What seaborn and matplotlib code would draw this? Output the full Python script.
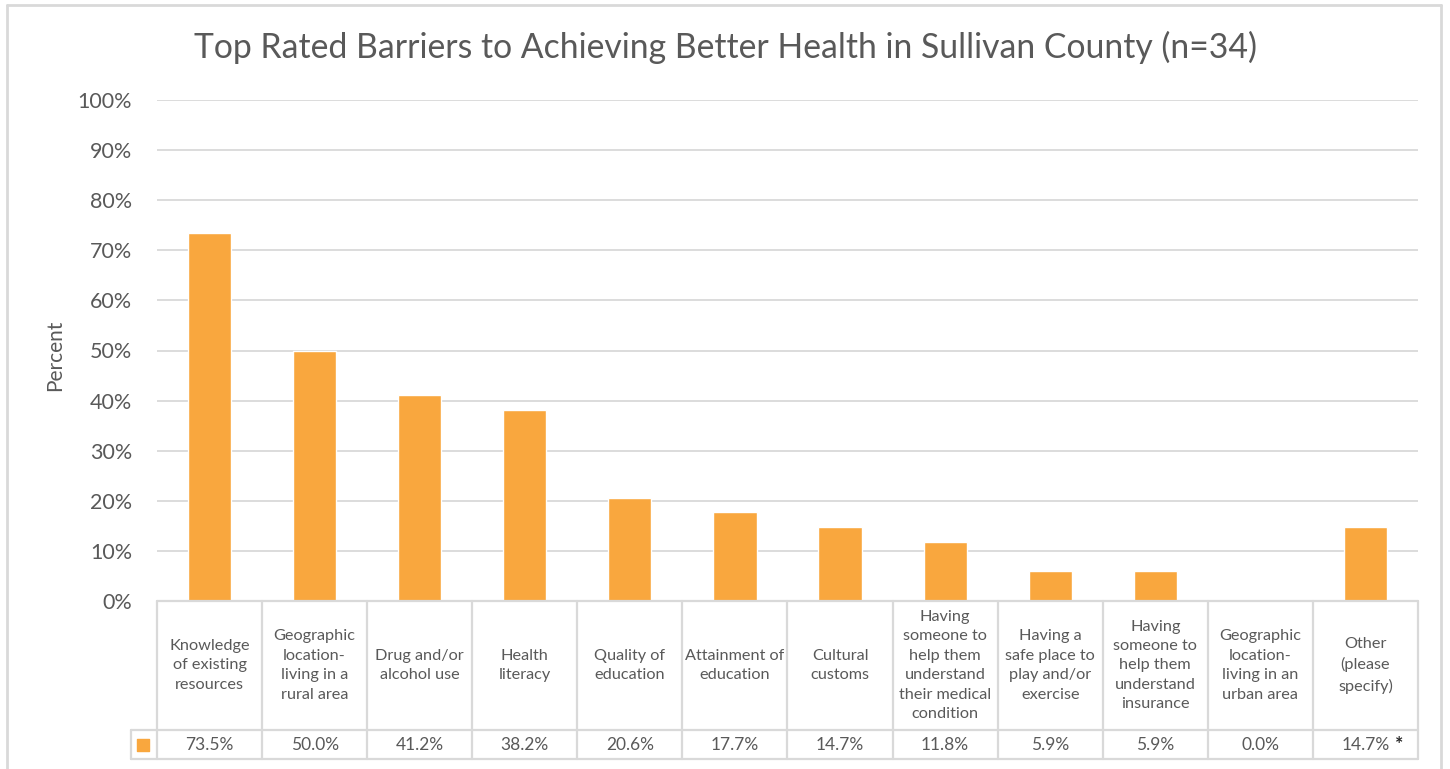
import matplotlib
matplotlib.use("Agg")
import matplotlib.pyplot as plt
import matplotlib.transforms as mtransforms
from matplotlib.ticker import FuncFormatter
import pandas as pd
import seaborn as sns

# data (percent of n=34 respondents)
categories = [
    "Knowledge\nof existing\nresources",
    "Geographic\nlocation-\nliving in a\nrural area",
    "Drug and/or\nalcohol use",
    "Health\nliteracy",
    "Quality of\neducation",
    "Attainment of\neducation",
    "Cultural\ncustoms",
    "Having\nsomeone to\nhelp them\nunderstand\ntheir medical\ncondition",
    "Having a\nsafe place to\nplay and/or\nexercise",
    "Having\nsomeone to\nhelp them\nunderstand\ninsurance",
    "Geographic\nlocation-\nliving in an\nurban area",
    "Other\n(please\nspecify)",
]
percent = [73.5, 50.0, 41.2, 38.2, 20.6, 17.7, 14.7, 11.8, 5.9, 5.9, 0.0, 14.7]
flagged = ["Other\n(please\nspecify)"]

bar_color = "#F9A73E"
text_color = "#595959"
line_color = "#D9D9D9"

sns.set_style("white")
plt.rcParams["font.family"] = ["Lato", "DejaVu Sans"]

df = pd.DataFrame({"Barrier": categories, "Percent": percent})

fig = plt.figure(figsize=(14.5, 7.69), dpi=100)
ax = fig.add_axes([157 / 1450, 168 / 769, 1261 / 1450, 501 / 769])

sns.barplot(data=df, x="Barrier", y="Percent", color=bar_color,
            saturation=1, width=0.41, ax=ax)

ax.set_ylim(0, 100)
ax.set_xlim(-0.5, len(categories) - 0.5)
ax.set_yticks(range(0, 101, 10))
ax.yaxis.set_major_formatter(FuncFormatter(lambda v, p: f"{v:.0f}%"))
ax.tick_params(axis="y", length=0, pad=18, labelsize=15.5, labelcolor=text_color)
ax.set_xticks([])
ax.set_xlabel("")
ax.set_ylabel("")
ax.yaxis.grid(True, color=line_color, linewidth=1.3)
ax.set_axisbelow(True)
for s in ax.spines.values():
    s.set_visible(False)

# data table under the plot
trans = mtransforms.blended_transform_factory(ax.transData, ax.transAxes)
head_bot = -129 / 501
row_bot = -158 / 501
n = len(categories)
lkw = dict(color=line_color, linewidth=1.6, transform=trans, clip_on=False)
ax.plot([-0.5, n - 0.5], [0, 0], **lkw)
ax.plot([-0.75, n - 0.5], [head_bot, head_bot], **lkw)
ax.plot([-0.75, n - 0.5], [row_bot, row_bot], **lkw)
ax.plot([-0.75, -0.75], [head_bot, row_bot], **lkw)
for i in range(n + 1):
    ax.plot([i - 0.5, i - 0.5], [0, row_bot], **lkw)

for i, (lab, val) in enumerate(zip(categories, percent)):
    ax.text(i, head_bot / 2, lab, ha="center", va="center", transform=trans,
            fontsize=11.7, color=text_color, linespacing=1.5)
    ax.text(i, (head_bot + row_bot) / 2, f"{val:.1f}%", ha="center", va="center",
            transform=trans, fontsize=12.5, color=text_color)
    if lab in flagged:
        ax.text(i + 0.32, (head_bot + row_bot) / 2, "*", ha="center", va="center",
                transform=trans, fontsize=14, fontweight="bold", color="#262626")

ax.scatter([-0.63], [(head_bot + row_bot) / 2], marker="s", s=70, color=bar_color,
           transform=trans, clip_on=False)

fig.text(0.5, 1 - 47 / 769, "Top Rated Barriers to Achieving Better Health in Sullivan County (n=34)",
         ha="center", va="center", fontsize=24.3, color=text_color)
fig.text(55 / 1450, 1 - 355 / 769, "Percent", rotation=90, ha="center", va="center",
         fontsize=15, color=text_color)

# chart frame
fkw = dict(color=line_color, linewidth=2, transform=fig.transFigure)
fig.add_artist(plt.Line2D([7 / 1450, 7 / 1450], [0, 1 - 5 / 769], **fkw))
fig.add_artist(plt.Line2D([7 / 1450, 1441 / 1450], [1 - 5 / 769, 1 - 5 / 769], **fkw))
fig.add_artist(plt.Line2D([1441 / 1450, 1441 / 1450], [0, 1 - 5 / 769], **fkw))

fig.savefig("out.png", dpi=100)
